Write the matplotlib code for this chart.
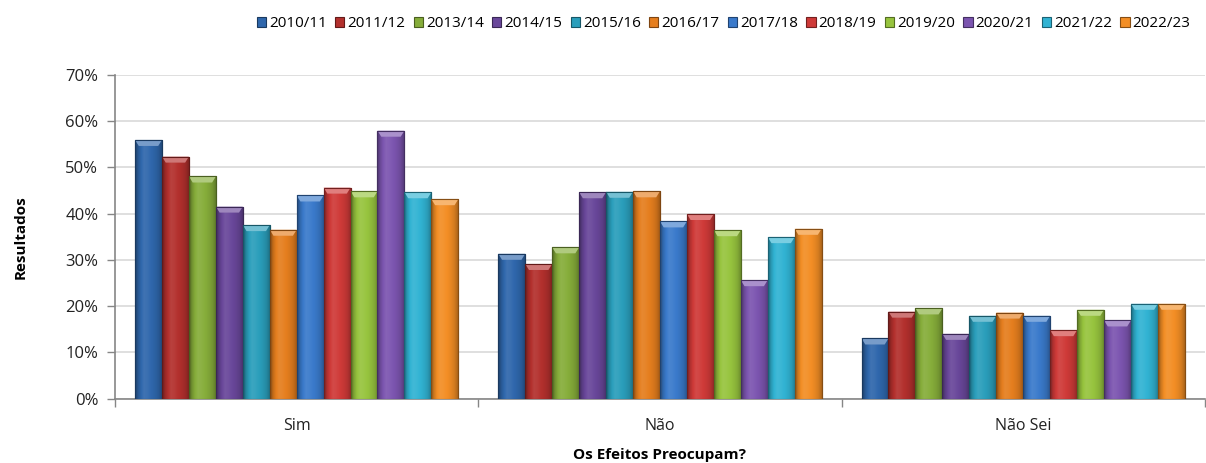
import matplotlib
matplotlib.use("Agg")
import matplotlib.pyplot as plt
import numpy as np
from matplotlib.ticker import PercentFormatter, MultipleLocator, FixedLocator
from matplotlib.colors import to_rgb
from matplotlib.patches import Polygon

categories = ["Sim", "Não", "Não Sei"]
seasons = ["2010/11", "2011/12", "2013/14", "2014/15", "2015/16", "2016/17",
           "2017/18", "2018/19", "2019/20", "2020/21", "2021/22", "2022/23"]
values = {
    "2010/11": [55.9, 31.3, 13.0],
    "2011/12": [52.3, 29.1, 18.8],
    "2013/14": [48.0, 32.7, 19.5],
    "2014/15": [41.5, 44.6, 14.0],
    "2015/16": [37.5, 44.7, 17.9],
    "2016/17": [36.5, 44.8, 18.6],
    "2017/18": [43.9, 38.3, 17.9],
    "2018/19": [45.6, 39.9, 14.8],
    "2019/20": [44.8, 36.4, 19.2],
    "2020/21": [57.9, 25.6, 16.9],
    "2021/22": [44.6, 34.9, 20.5],
    "2022/23": [43.1, 36.7, 20.5],
}
colors = ["#2F67AC", "#B3302D", "#86AD3A", "#69479A", "#2A9EBB", "#E57E1E",
          "#3A7ACB", "#CF3A38", "#97C43E", "#7C55B0", "#31B3D3", "#F38E25"]

plt.rcParams['font.family'] = ['Open Sans', 'DejaVu Sans']

fig = plt.figure(figsize=(12.06, 4.63), dpi=100)
ax = fig.add_axes([0.0954, 0.139, 0.9036, 0.6997])


def shade(c, f):
    r = np.array(to_rgb(c))
    if f < 1:
        return tuple(r * f)
    return tuple(r + (1 - r) * (f - 1))


n = len(seasons)
group_w = 0.89
bw = group_w / n
x = np.arange(len(categories))
prof = np.array([0.62, 0.85, 1.0, 1.08, 1.06, 1.02, 0.98, 0.93, 0.86, 0.72])
for i, s in enumerate(seasons):
    offs = -group_w / 2 + bw * (i + 0.5)
    bars = ax.bar(x + offs, values[s], width=bw, color=colors[i],
                  edgecolor=shade(colors[i], 0.55), linewidth=0.8, label=s, zorder=3)
    for b in bars:
        x0, y0 = b.get_x(), b.get_y()
        w, h = b.get_width(), b.get_height()
        grad = np.array([[shade(colors[i], f) for f in np.interp(
            np.linspace(0, 1, 40), np.linspace(0, 1, len(prof)), prof)]])
        im = ax.imshow(grad, extent=[x0, x0 + w, y0, y0 + h], aspect='auto',
                       zorder=3.5, interpolation='bilinear')
        im.set_clip_path(b)
        d = w * 0.14
        hh = 1.3
        top = Polygon([[x0, y0 + h], [x0 + w, y0 + h], [x0 + w - d, y0 + h - hh],
                       [x0 + d, y0 + h - hh]], closed=True,
                      facecolor=shade(colors[i], 1.35), edgecolor='none', zorder=3.7)
        ax.add_patch(top)
        ax.add_patch(Polygon([[x0, y0], [x0 + w, y0], [x0 + w, y0 + h], [x0, y0 + h]],
                             closed=True, facecolor='none',
                             edgecolor=shade(colors[i], 0.55), linewidth=0.8, zorder=3.8))

ax.set_xlim(-0.5, len(categories) - 0.5)
ax.set_ylim(0, 70)
ax.yaxis.set_major_locator(MultipleLocator(10))
ax.yaxis.set_major_formatter(PercentFormatter(decimals=0))
ax.grid(axis='y', color='#D9D9D9', linewidth=1.2, zorder=0)
ax.set_axisbelow(True)

ax.set_xticks(x)
ax.set_xticklabels(categories, fontsize=11.5, color='#222222')
ax.xaxis.set_minor_locator(FixedLocator([-0.5, 0.5, 1.5, 2.5]))
ax.tick_params(axis='x', which='major', length=0, pad=14)
ax.tick_params(axis='x', which='minor', length=6, color='#868686', width=1)
ax.tick_params(axis='y', length=6, color='#868686', width=1, labelsize=12,
               labelcolor='#222222', pad=6)

for sp in ['top', 'right']:
    ax.spines[sp].set_visible(False)
for sp in ['left', 'bottom']:
    ax.spines[sp].set_color('#868686')
    ax.spines[sp].set_linewidth(1.2)

ax.set_ylabel("Resultados", fontsize=11, fontweight='bold', labelpad=27)
ax.set_xlabel("Os Efeitos Preocupam?", fontsize=11, fontweight='bold', labelpad=10)

leg = fig.legend(loc='upper center', bbox_to_anchor=(0.6, 0.995), ncol=12, frameon=False,
                 fontsize=11, handlelength=0.6, handleheight=0.6, handletextpad=0.2,
                 columnspacing=0.55, borderaxespad=0.5)

fig.savefig("out.png", dpi=100)
